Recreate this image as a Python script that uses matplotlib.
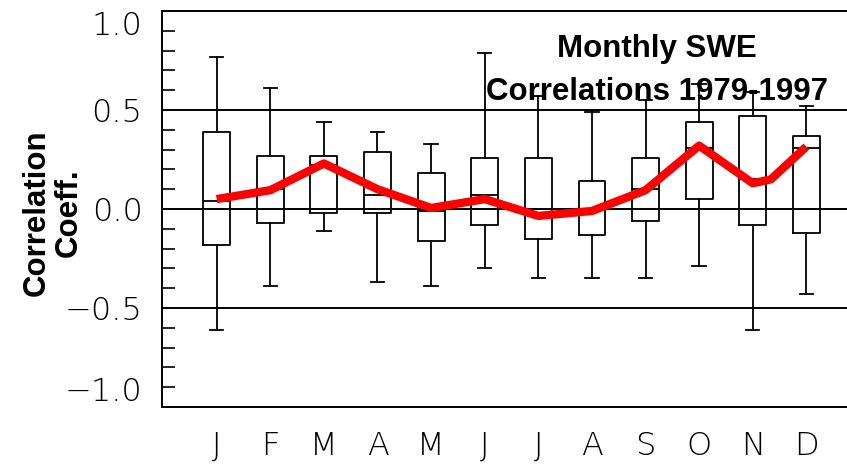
import matplotlib
matplotlib.use("Agg")
import matplotlib.pyplot as plt
from matplotlib.ticker import FixedLocator

months = ['J', 'F', 'M', 'A', 'M', 'J', 'J', 'A', 'S', 'O', 'N', 'D']

# box plot stats
whisker_low = [-0.61, -0.39, -0.11, -0.37, -0.39, -0.30, -0.35, -0.35, -0.35, -0.29, -0.61, -0.43]
q1 = [-0.18, -0.07, -0.02, -0.02, -0.16, -0.08, -0.15, -0.13, -0.06, 0.05, -0.08, -0.12]
median = [0.04, 0.10, 0.22, 0.07, -0.01, 0.07, -0.02, 0.00, 0.10, 0.31, 0.15, 0.31]
q3 = [0.39, 0.27, 0.27, 0.29, 0.18, 0.26, 0.26, 0.14, 0.26, 0.44, 0.47, 0.37]
whisker_high = [0.77, 0.61, 0.44, 0.39, 0.33, 0.79, 0.57, 0.49, 0.55, 0.63, 0.59, 0.52]

# red curve (has one extra vertex between N and D)
line_x = [1, 2, 3, 4, 5, 6, 7, 8, 9, 10, 11, 11.34, 12]
line_y = [0.05, 0.095, 0.23, 0.10, 0.005, 0.05, -0.035, -0.01, 0.095, 0.32, 0.13, 0.15, 0.315]

title_lines = ['Monthly SWE', 'Correlations 1979-1997']
ylabel_lines = ['Correlation', 'Coeff.']

fig = plt.figure(figsize=(8.47, 4.65), dpi=100)
ax = fig.add_axes([162 / 847, 1 - 407 / 465, 1 - 162 / 847 + 0.002, (407 - 11) / 465])

positions = list(range(1, len(months) + 1))
stats = []
for i in range(len(months)):
    stats.append({'whislo': whisker_low[i], 'q1': q1[i], 'med': median[i],
                  'q3': q3[i], 'whishi': whisker_high[i], 'fliers': []})

lw = 1.3
ax.bxp(stats, positions=positions, widths=0.5, showfliers=False,
       boxprops=dict(color='black', linewidth=lw),
       medianprops=dict(color='black', linewidth=lw),
       whiskerprops=dict(color='black', linewidth=lw),
       capprops=dict(color='black', linewidth=lw),
       capwidths=0.25)

for yv in [0.5, 0.0, -0.5]:
    ax.axhline(yv, color='black', linewidth=1.4, zorder=1)

ax.plot(line_x, line_y, color='#ff0000', linewidth=6, solid_capstyle='butt', zorder=5)

ax.set_xlim(-0.02, 12.79)
ax.set_ylim(-1.0, 1.0)

tick_font = dict(family='DejaVu Sans', fontweight='light')

ax.set_xticks(positions)
ax.set_xticklabels(months, fontsize=23, **tick_font)
ax.tick_params(axis='x', length=0, pad=17)

ax.set_yticks([-1.0, -0.5, 0.0, 0.5, 1.0])
ax.set_yticklabels(['\u22121.0', '\u22120.5', '0.0', '0.5', '1.0'], fontsize=23, **tick_font)
ax.tick_params(axis='y', which='major', length=0, pad=14)
ax.yaxis.set_minor_locator(FixedLocator([round(-0.9 + 0.1 * k, 1) for k in range(19)]))
ax.tick_params(axis='y', which='minor', direction='in', length=9, width=1.2)
ylabs = ax.get_yticklabels()
ylabs[0].set_va('bottom')
ylabs[-1].set_va('top')

for s in ax.spines.values():
    s.set_linewidth(1.4)

fig.text(657 / 847, 1 - 34 / 465, '\n'.join(title_lines), ha='center', va='top',
         fontsize=22.5, fontweight='bold', family='Liberation Sans', linespacing=1.55, zorder=10)

fig.text(53 / 847, 1 - 213 / 465, '\n'.join(ylabel_lines), ha='center', va='center',
         rotation=90, multialignment='center', fontsize=22.5, fontweight='bold',
         family='Liberation Sans', linespacing=1.1)

fig.savefig('out.png', dpi=100)
